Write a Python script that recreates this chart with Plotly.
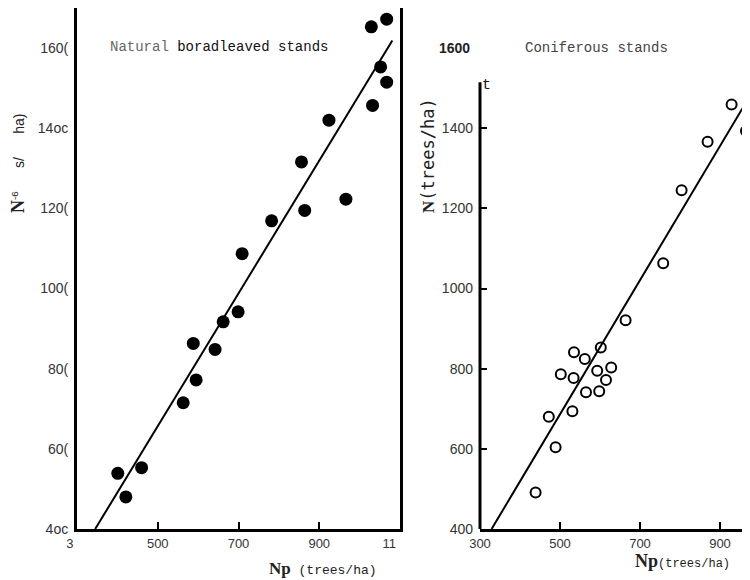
import plotly.graph_objects as go

# ---- data ----
broad_np = [1067, 1029, 1052, 1067, 1032, 924, 856, 966, 864, 782, 709,
            699, 662, 588, 642, 595, 563, 460, 401, 421]
broad_n = [1672, 1653, 1553, 1515, 1457, 1420, 1316, 1223, 1195, 1169, 1087,
           942, 917, 863, 848, 772, 715, 553, 539, 480]
broad_fit_np = [345, 1081]
broad_fit_n = [400, 1619]

conif_np = [929, 965, 869, 804, 758, 664, 602, 535, 562, 628, 593, 502, 534,
            615, 565, 598, 472, 531, 489, 439]
conif_n = [1459, 1393, 1366, 1245, 1063, 921, 853, 841, 824, 803, 795, 786, 777,
           772, 741, 744, 680, 694, 604, 491]
conif_fit_np = [329, 1000]
conif_fit_n = [400, 1523]

left_xticks = [300, 500, 700, 900, 1100]
left_xtext = ["3\u00a0\u00a0\u00a0\u00a0", "500", "700", "900",
              "11\u00a0\u00a0\u00a0\u00a0\u00a0\u00a0"]
left_yticks = [400, 600, 800, 1000, 1200, 1400, 1600]
left_ytext = ["4oc", "60(", "80(", "100(", "120(", "14oc", "160("]
right_xticks = [300, 500, 700, 900]
right_xtext = ["300", "500", "700", "900"]
right_yticks = [400, 600, 800, 1000, 1200, 1400]
right_ytext = ["400", "600", "800", "1000", "1200", "1400"]

W, H = 750, 580
OFF = 8  # the page body margin shifts the figure by this many pixels


def px(x):
    return (x - OFF) / W


def py(y):
    return 1 - (y - OFF) / H


fig = go.Figure()

fig.add_trace(go.Scatter(x=broad_fit_np, y=broad_fit_n, mode="lines",
                         line=dict(color="black", width=2),
                         xaxis="x", yaxis="y", showlegend=False, hoverinfo="skip"))
fig.add_trace(go.Scatter(x=broad_np, y=broad_n, mode="markers",
                         marker=dict(color="black", size=13, symbol="circle"),
                         xaxis="x", yaxis="y", showlegend=False))
fig.add_trace(go.Scatter(x=conif_fit_np, y=conif_fit_n, mode="lines",
                         line=dict(color="black", width=2),
                         xaxis="x2", yaxis="y2", showlegend=False, hoverinfo="skip"))
fig.add_trace(go.Scatter(x=conif_np, y=conif_n, mode="markers",
                         marker=dict(color="black", size=10, symbol="circle-open",
                                     line=dict(color="black", width=2)),
                         xaxis="x2", yaxis="y2", showlegend=False))

ydom = [py(529), py(8)]
tickfont_y = dict(family="Liberation Sans", size=14, color="#333")
tickfont_x = dict(family="Liberation Sans", size=13, color="#333")

fig.update_layout(
    template="none",
    width=W, height=H,
    margin=dict(l=0, r=0, t=0, b=0, pad=0, autoexpand=False),
    paper_bgcolor="white", plot_bgcolor="white",
    showlegend=False,
    xaxis=dict(domain=[px(77), px(400)], range=[300, 1100], anchor="y",
               automargin=False,
               tickmode="array", tickvals=left_xticks, ticktext=left_xtext,
               ticks="inside", ticklen=7, tickwidth=1.5, tickcolor="black",
               showline=True, linewidth=3, linecolor="black", mirror=True,
               showgrid=False, zeroline=False, tickfont=tickfont_x),
    yaxis=dict(domain=ydom, range=[400, 1700], anchor="x",
               automargin=False,
               tickmode="array", tickvals=left_yticks, ticktext=left_ytext,
               ticks="", showline=True, linewidth=3, linecolor="black", mirror=True,
               showgrid=False, zeroline=False, tickfont=tickfont_y,
               ticklabelstandoff=3),
    xaxis2=dict(domain=[px(480), px(750)], range=[300, 975], anchor="y2",
                automargin=False,
                tickmode="array", tickvals=right_xticks, ticktext=right_xtext,
                ticks="inside", ticklen=7, tickwidth=1.5, tickcolor="black",
                showline=True, linewidth=3, linecolor="black", mirror=True,
                showgrid=False, zeroline=False, tickfont=tickfont_x),
    yaxis2=dict(domain=ydom, range=[400, 1700], anchor="x2",
                automargin=False,
                tickmode="array", tickvals=right_yticks, ticktext=right_ytext,
                ticks="inside", ticklen=7, tickwidth=1.5, tickcolor="black",
                showline=False, showgrid=False, zeroline=False,
                tickfont=tickfont_y, ticklabelstandoff=6),
)

# right panel y axis line (does not reach the top border)
fig.add_shape(type="line", xref="x2 domain", yref="y2", x0=0, x1=0, y0=400, y1=1515,
              line=dict(color="black", width=3))

mono = "Liberation Mono"
serif_np = "<span style='font-family:Liberation Serif'><b>Np</b></span>"
serif_n = "<span style='font-family:Liberation Serif'><b>N</b></span>"
nb = "\u00a0"

annots = [
    dict(x=px(108), y=py(47), xanchor="left", yanchor="middle",
         text="<span style='color:#666'>Natural</span> boradleaved stands",
         font=dict(family=mono, size=14, color="#111")),
    dict(x=px(523), y=py(48), xanchor="left", yanchor="middle",
         text="Coniferous stands", font=dict(family=mono, size=14, color="#444")),
    dict(x=px(472), y=py(48), xanchor="right", yanchor="middle",
         text="<b>1600</b>", font=dict(family="Liberation Sans", size=14, color="#222")),
    dict(x=px(486), y=py(86), xanchor="center", yanchor="middle",
         text="t", font=dict(family=mono, size=15, color="#111")),
    dict(x=px(267), y=py(568), xanchor="left", yanchor="middle",
         text=serif_np + "<span style='font-size:13px'> (trees/ha)</span>",
         font=dict(family=mono, size=17, color="#222")),
    dict(x=px(633), y=py(561), xanchor="left", yanchor="middle",
         text=serif_np + "<span style='font-size:12px'>(trees/ha)</span>",
         font=dict(family=mono, size=18, color="#222")),
    dict(x=px(18), y=py(163), xanchor="center", yanchor="middle", textangle=-90,
         text="<span style='font-family:Liberation Serif;font-size:18px'><b>N</b></span>"
              "<sup>-6</sup>" + nb * 6 + "s/" + nb * 6 + "ha)",
         font=dict(family="Liberation Sans", size=14, color="#222")),
    dict(x=px(428), y=py(156), xanchor="center", yanchor="middle", textangle=-90,
         text=serif_n + "(trees/ha)",
         font=dict(family="DejaVu Sans Mono", size=17, color="#222")),
]
for a in annots:
    a.update(xref="paper", yref="paper", showarrow=False)
    fig.add_annotation(**a)

fig.write_html("out.html")
